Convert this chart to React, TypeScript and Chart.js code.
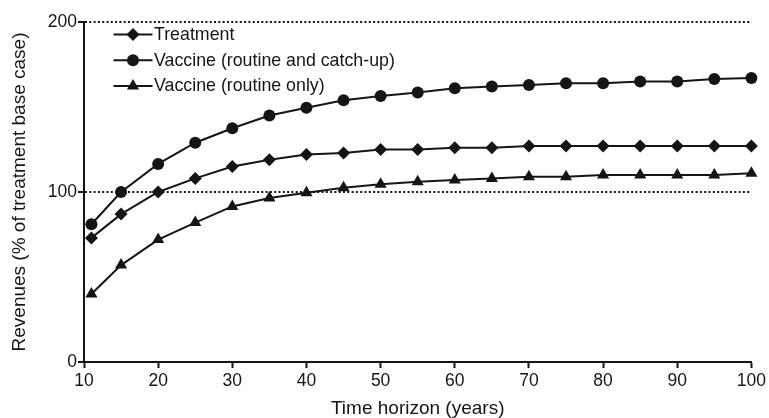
import React, { useEffect, useRef } from 'react';
import { Chart, registerables } from 'chart.js';

Chart.register(...registerables);

const years = [11, 15, 20, 25, 30, 35, 40, 45, 50, 55, 60, 65, 70, 75, 80, 85, 90, 95, 100];
const treatment = [73, 87, 100, 108, 115, 119, 122, 123, 125, 125, 126, 126, 127, 127, 127, 127, 127, 127, 127];
const vaccineCatchUp = [81, 100, 116.5, 129, 137.5, 145, 149.5, 154, 156.5, 158.5, 161, 162, 163, 164, 164, 165, 165, 166.5, 167];
const vaccineRoutine = [40, 57, 72, 82, 91.5, 96.5, 99.5, 102.5, 104.5, 106, 107, 108, 109, 109, 110, 110, 110, 110, 111];
const seriesLabels = ['Treatment', 'Vaccine (routine and catch-up)', 'Vaccine (routine only)'];
const seriesMarkers = ['rectRot', 'circle', 'triangle'];
const seriesRadius = [6.5, 6, 7];
const xRange = [10, 100];
const yRange = [0, 200];
const xTitle = 'Time horizon (years)';
const yTitle = 'Revenues (% of treatment base case)';

const INK = '#151515';
const FONT = '"Liberation Sans", Arial, Helvetica, sans-serif';

function drawMarker(ctx: CanvasRenderingContext2D, style: string, x: number, y: number, r: number) {
  ctx.beginPath();
  if (style === 'circle') {
    ctx.arc(x, y, r, 0, Math.PI * 2);
  } else if (style === 'rectRot') {
    ctx.moveTo(x - r, y);
    ctx.lineTo(x, y - r);
    ctx.lineTo(x + r, y);
    ctx.lineTo(x, y + r);
  } else {
    let a = 0;
    ctx.moveTo(x + Math.sin(a) * r, y - Math.cos(a) * r);
    a += (2 * Math.PI) / 3;
    ctx.lineTo(x + Math.sin(a) * r, y - Math.cos(a) * r);
    a += (2 * Math.PI) / 3;
    ctx.lineTo(x + Math.sin(a) * r, y - Math.cos(a) * r);
  }
  ctx.closePath();
  ctx.fill();
}

const lineLegend = {
  id: 'lineLegend',
  afterDatasetsDraw(chart: any) {
    const ctx = chart.ctx as CanvasRenderingContext2D;
    const { left, top } = chart.chartArea;
    chart.data.datasets.forEach((ds: any, i: number) => {
      const y = top + 12.5 + i * 25.7;
      const x0 = left + 29.5;
      const x1 = left + 68.5;
      ctx.save();
      ctx.strokeStyle = INK;
      ctx.lineWidth = 2;
      ctx.beginPath();
      ctx.moveTo(x0, y);
      ctx.lineTo(x1, y);
      ctx.stroke();
      ctx.fillStyle = INK;
      drawMarker(ctx, ds.pointStyle, (x0 + x1) / 2, y, ds.pointRadius);
      ctx.font = `17.8px ${FONT}`;
      ctx.textAlign = 'left';
      ctx.textBaseline = 'middle';
      ctx.fillText(ds.label, x1 + 1.5, y + 0.5);
      ctx.restore();
    });
  },
};

export default function App() {
  const canvasRef = useRef<HTMLCanvasElement | null>(null);

  useEffect(() => {
    document.body.style.margin = '0';
    const canvas = canvasRef.current;
    if (!canvas) return;
    const seriesValues = [treatment, vaccineCatchUp, vaccineRoutine];
    const chart = new Chart(canvas, {
      type: 'line',
      data: {
        datasets: seriesValues.map((vals, i) => ({
          label: seriesLabels[i],
          data: vals.map((v, j) => ({ x: years[j], y: v })),
          borderColor: INK,
          borderWidth: 2,
          backgroundColor: INK,
          pointStyle: seriesMarkers[i] as any,
          pointRadius: seriesRadius[i],
          pointBackgroundColor: INK,
          pointBorderColor: INK,
          pointBorderWidth: 0,
          tension: 0,
          clip: false as any,
        })),
      },
      options: {
        responsive: false,
        animation: false,
        devicePixelRatio: 1,
        layout: { padding: { top: 22, right: 15, bottom: 0, left: 0 } },
        plugins: {
          legend: { display: false },
          tooltip: { enabled: false },
        },
        scales: {
          x: {
            type: 'linear',
            min: xRange[0],
            max: xRange[1],
            afterFit: (scale: any) => {
              scale.height = 56;
            },
            ticks: {
              stepSize: 10,
              color: INK,
              padding: 3,
              font: { family: FONT, size: 17.5 },
              maxRotation: 0,
            },
            grid: {
              drawOnChartArea: false,
              drawTicks: true,
              tickLength: 6,
              tickColor: INK,
              tickWidth: 2,
            },
            border: { display: true, color: INK, width: 2 },
            title: {
              display: true,
              text: xTitle,
              color: INK,
              font: { family: FONT, size: 19, lineHeight: 1 },
              padding: { top: 0, bottom: 0 },
            },
          },
          y: {
            type: 'linear',
            min: yRange[0],
            max: yRange[1],
            afterFit: (scale: any) => {
              scale.width = 84;
            },
            ticks: {
              stepSize: 100,
              color: INK,
              padding: 1,
              font: { family: FONT, size: 17.5 },
            },
            grid: {
              drawOnChartArea: true,
              drawTicks: true,
              tickLength: 6,
              tickColor: INK,
              tickWidth: 2,
              lineWidth: 2,
              color: (c: any) => (c.tick && c.tick.value > 0 ? INK : 'rgba(0,0,0,0)'),
            },
            border: { display: true, color: INK, width: 2, dash: [2, 2.3] },
            title: {
              display: true,
              text: yTitle,
              color: INK,
              font: { family: FONT, size: 19, lineHeight: 1 },
              padding: { top: 10, bottom: 0 },
            },
          },
        },
      },
      plugins: [lineLegend],
    });
    return () => {
      chart.destroy();
    };
  }, []);

  return (
    <div style={{ width: 769, height: 418, position: 'relative', background: '#fff' }}>
      <canvas ref={canvasRef} width={769} height={418} style={{ display: 'block' }} />
    </div>
  );
}
